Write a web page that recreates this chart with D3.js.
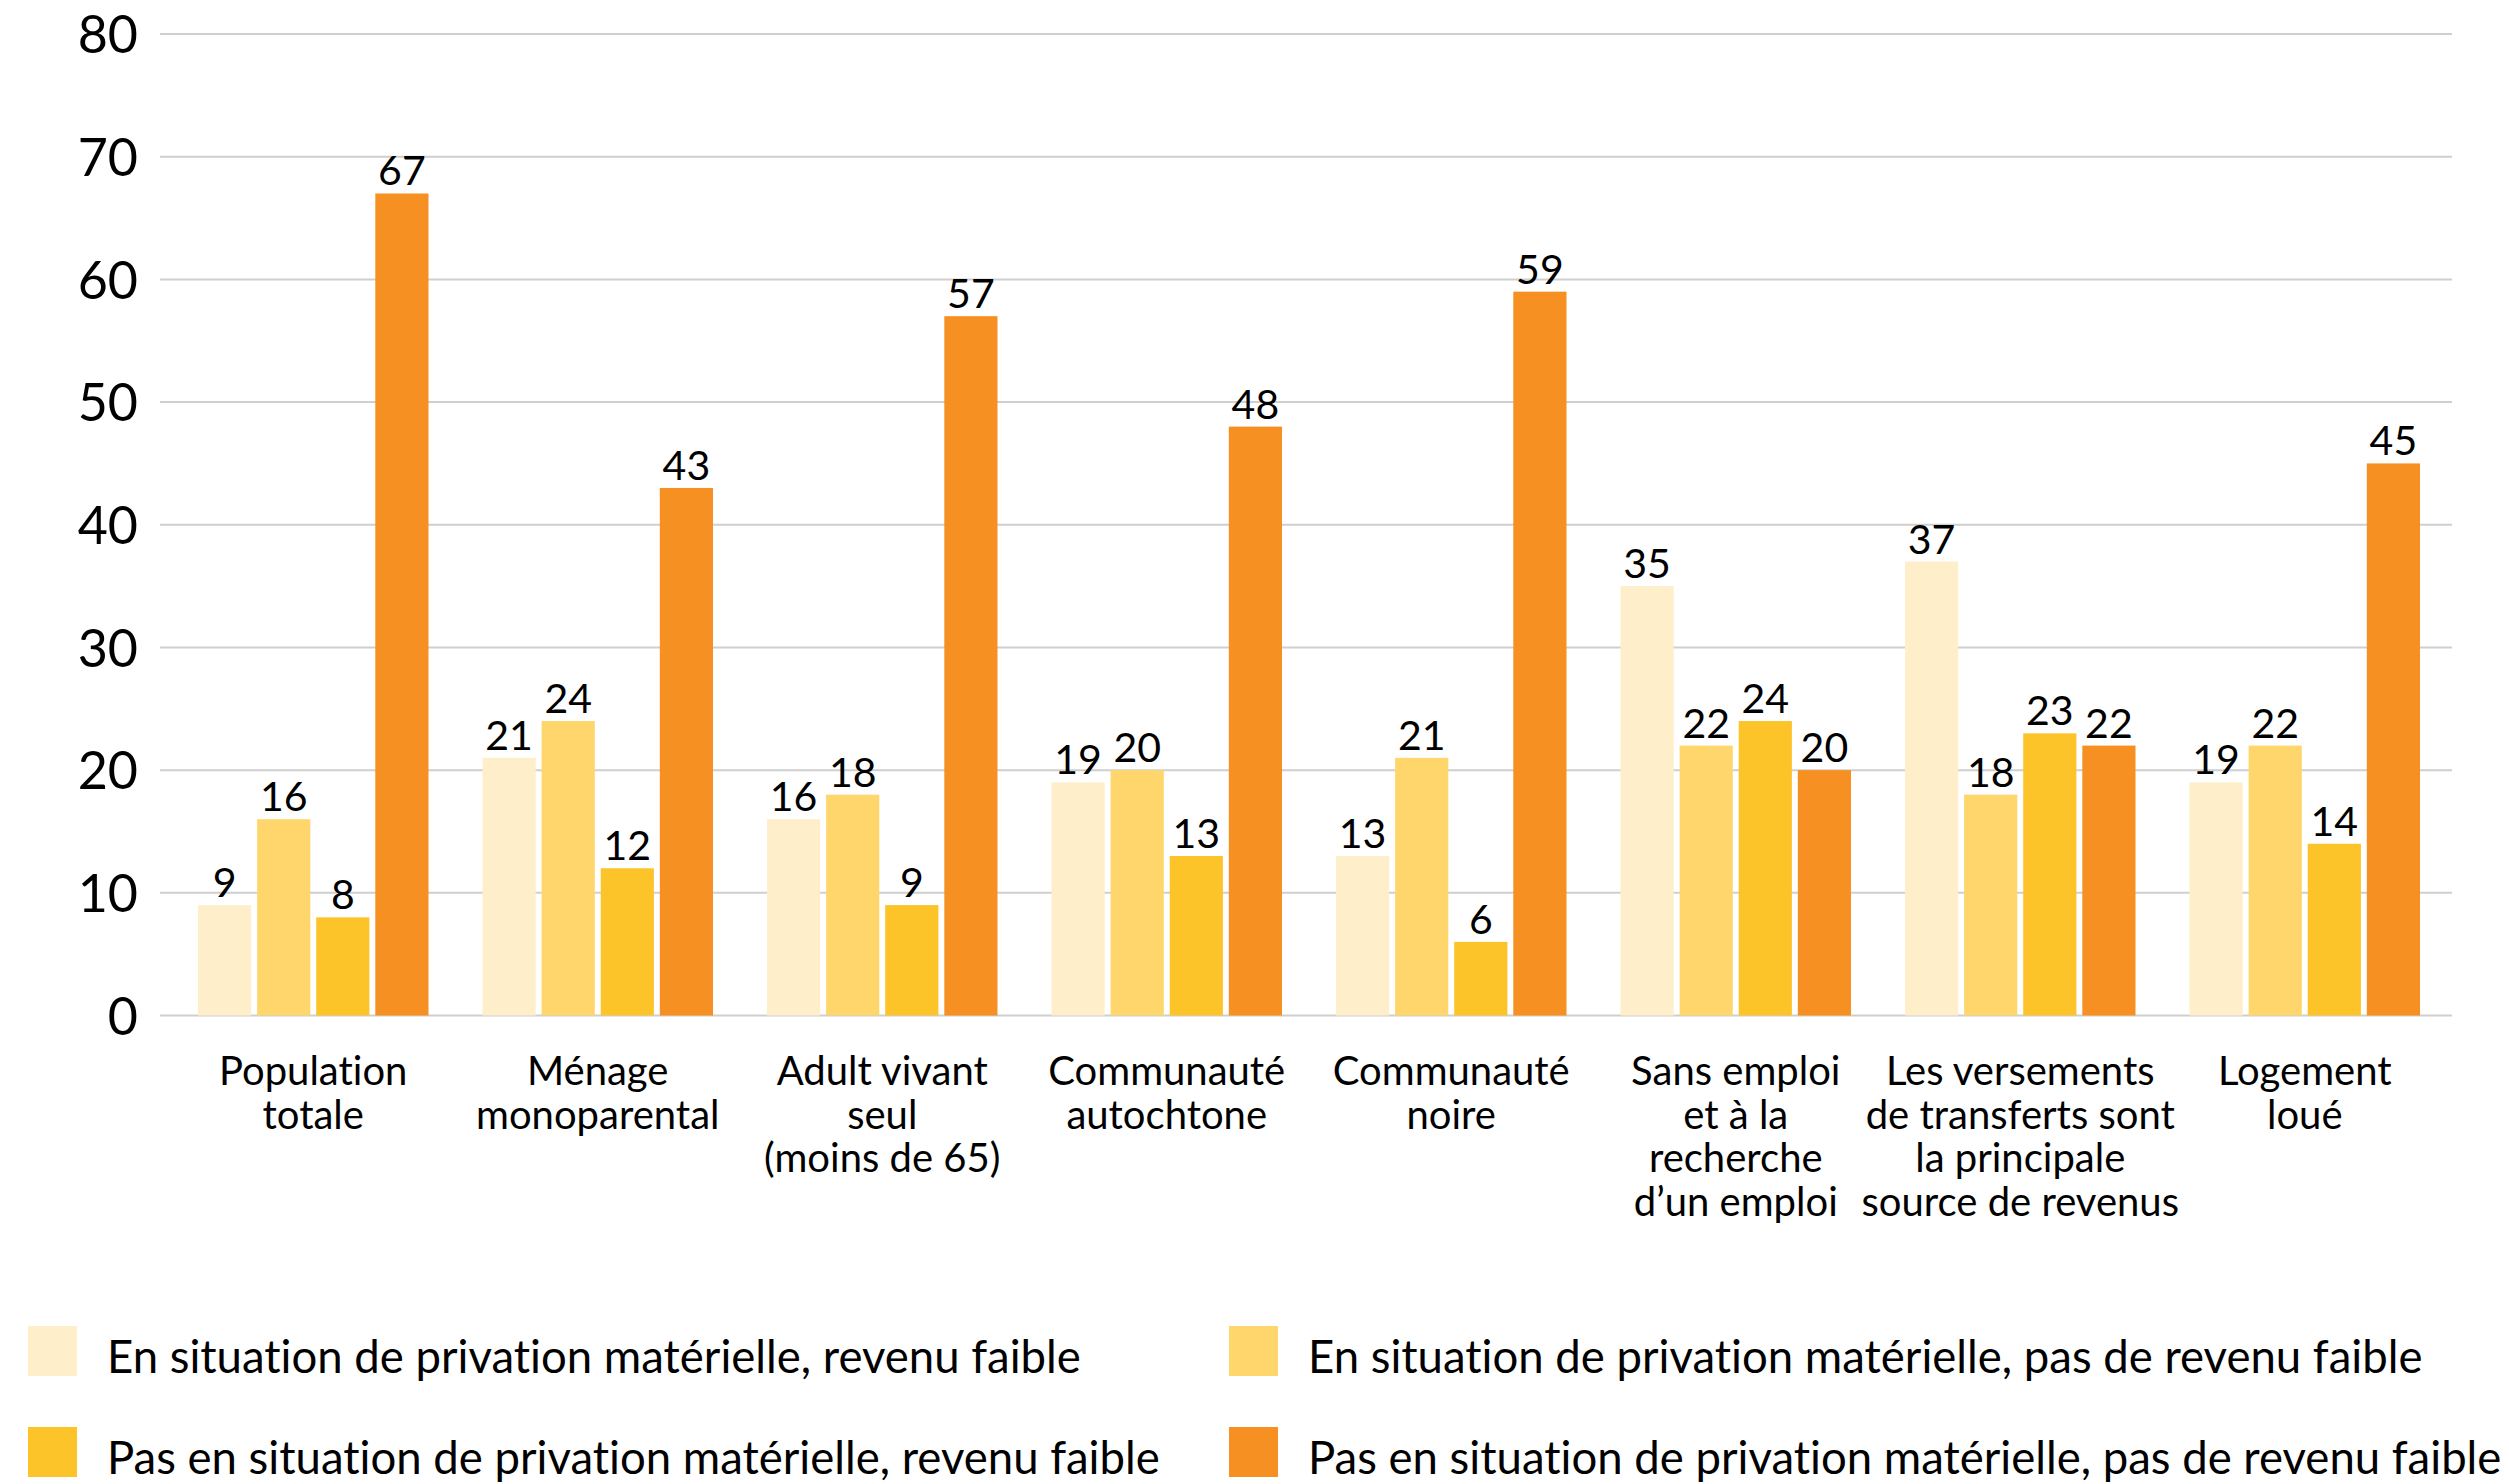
<!DOCTYPE html>
<html>
<head>
<meta charset="utf-8">
<script src="https://cdn.jsdelivr.net/npm/d3@7"></script>
<style>
  html, body { margin: 0; padding: 0; background: #fff; }
  svg { display: block; }
  text { font-family: "Lato", "Open Sans", sans-serif; fill: #000; font-variant-ligatures: none; }
</style>
</head>
<body>
<svg id="chart" width="2509" height="1484"></svg>
<script>
// Category labels (one entry per line of the label)
const categories = [
  ["Population", "totale"],
  ["Ménage", "monoparental"],
  ["Adult vivant", "seul", "(moins de 65)"],
  ["Communauté", "autochtone"],
  ["Communauté", "noire"],
  ["Sans emploi", "et à la", "recherche", "d’un emploi"],
  ["Les versements", "de transferts sont", "la principale", "source de revenus"],
  ["Logement", "loué"]
];

const seriesNames = [
  "En situation de privation matérielle, revenu faible",
  "En situation de privation matérielle, pas de revenu faible",
  "Pas en situation de privation matérielle, revenu faible",
  "Pas en situation de privation matérielle, pas de revenu faible"
];

const privLowIncome      = [9, 21, 16, 19, 13, 35, 37, 19];
const privNotLowIncome   = [16, 24, 18, 20, 21, 22, 18, 22];
const noPrivLowIncome    = [8, 12, 9, 13, 6, 24, 23, 14];
const noPrivNotLowIncome = [67, 43, 57, 48, 59, 20, 22, 45];

const seriesValues = [privLowIncome, privNotLowIncome, noPrivLowIncome, noPrivNotLowIncome];
const seriesColors = ["#FEEFCA", "#FED66B", "#FDC42A", "#F69022"];

const yTicks = [0, 10, 20, 30, 40, 50, 60, 70, 80];

const svg = d3.select("#chart");

const gridLeft = 160, gridRight = 2452;
const y = d3.scaleLinear().domain([0, 80]).range([1015.5, 34]);

const catKeys = categories.map((c, i) => i);
const x0 = d3.scaleBand().domain(catKeys).range([171, 2447]).padding(0);
const x1 = d3.scaleBand().domain(d3.range(seriesValues.length))
  .range([27, x0.bandwidth() - 27]).paddingInner(0.1);

// Gridlines
svg.append("g")
  .selectAll("line")
  .data(yTicks)
  .join("line")
  .attr("x1", gridLeft).attr("x2", gridRight)
  .attr("y1", d => y(d)).attr("y2", d => y(d))
  .attr("stroke", "#cfcfcf").attr("stroke-width", 2);

// Y axis labels
const yAxis = d3.axisLeft(y).tickValues(yTicks).tickSize(0).tickPadding(0);
const yg = svg.append("g").attr("transform", "translate(138,0)").call(yAxis);
yg.select(".domain").remove();
yg.selectAll("text")
  .attr("font-size", 52)
  .attr("font-family", "Lato, 'Open Sans', sans-serif")
  .attr("fill", "#000")
  .attr("dy", "0.36em");

// Bars
const groups = svg.append("g")
  .selectAll("g")
  .data(catKeys)
  .join("g")
  .attr("transform", i => `translate(${x0(i)},0)`);

groups.selectAll("rect")
  .data(i => seriesValues.map((vals, s) => ({ s, v: vals[i] })))
  .join("rect")
  .attr("x", d => x1(d.s))
  .attr("width", x1.bandwidth())
  .attr("y", d => y(d.v))
  .attr("height", d => y(0) - y(d.v))
  .attr("fill", d => seriesColors[d.s]);

// Value labels
groups.selectAll("text.val")
  .data(i => seriesValues.map((vals, s) => ({ s, v: vals[i] })))
  .join("text")
  .attr("class", "val")
  .attr("x", d => x1(d.s) + x1.bandwidth() / 2)
  .attr("y", d => y(d.v) - 8)
  .attr("text-anchor", "middle")
  .attr("font-size", 41)
  .text(d => d.v);

// Category labels
const catLabels = svg.append("g")
  .selectAll("text")
  .data(catKeys)
  .join("text")
  .attr("x", i => x0(i) + x0.bandwidth() / 2)
  .attr("y", 1085)
  .attr("text-anchor", "middle")
  .attr("font-size", 40);
catLabels.selectAll("tspan")
  .data(i => categories[i].map((line, k) => ({ line, k, i })))
  .join("tspan")
  .attr("x", d => x0(d.i) + x0.bandwidth() / 2)
  .attr("dy", d => d.k === 0 ? 0 : 43.7)
  .text(d => d.line);

// Legend
const legendPos = [[28, 1326], [1229, 1326], [28, 1427], [1229, 1427]];
const legend = svg.append("g")
  .selectAll("g")
  .data(seriesNames.map((name, s) => ({ name, s })))
  .join("g")
  .attr("transform", d => `translate(${legendPos[d.s][0]},${legendPos[d.s][1]})`);
legend.append("rect")
  .attr("width", 49).attr("height", 50)
  .attr("fill", d => seriesColors[d.s]);
legend.append("text")
  .attr("x", 79).attr("y", 47)
  .attr("font-size", 45.5)
  .text(d => d.name);
</script>
</body>
</html>
